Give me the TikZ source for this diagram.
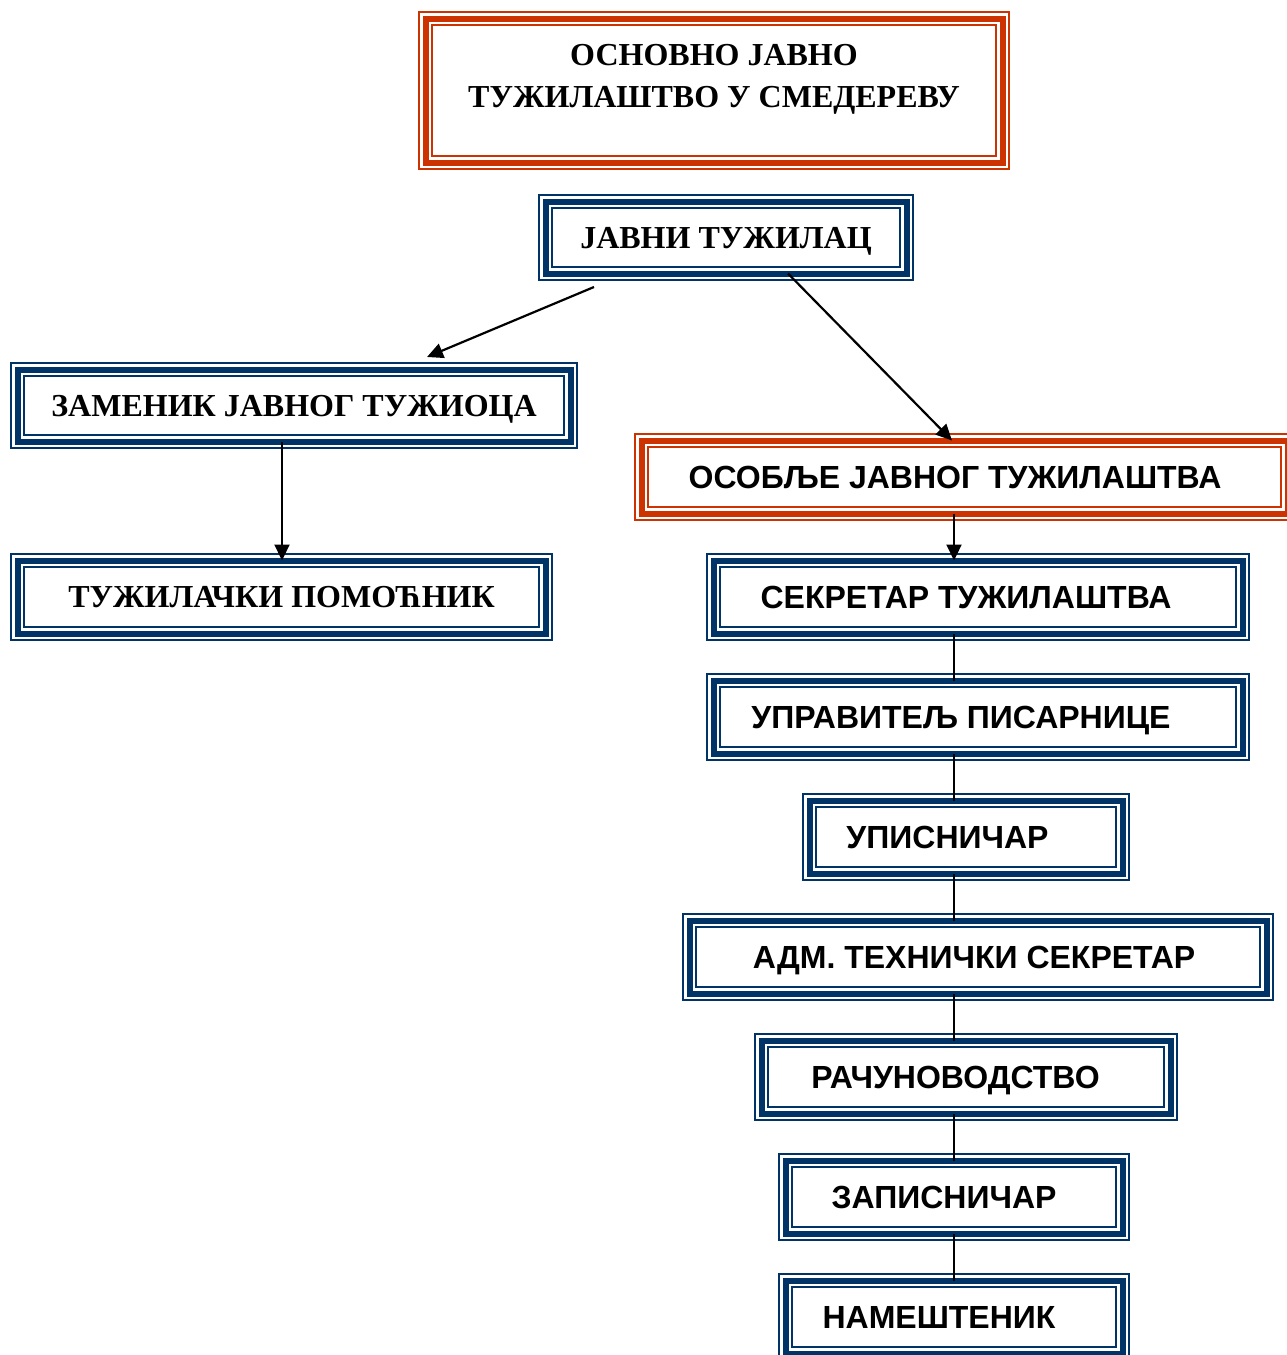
\documentclass[tikz,border=0pt]{standalone}
\usepackage{fontspec}
\setmainfont{Liberation Serif}
\newfontfamily\sansb{Liberation Sans}
\usetikzlibrary{arrows.meta,calc}
\definecolor{bordblue}{RGB}{0,51,102}
\definecolor{bordred}{RGB}{204,51,0}
\newcommand{\lft}[1]{\hspace*{#1pt}}
\tikzset{
  tribox/.style={rectangle, inner sep=0pt, outer sep=0pt,
    preaction={fill=white, draw=#1, line width=15pt},
    preaction={draw=white, line width=10.5pt},
    draw=#1, line width=6pt},
  serifbox/.style={tribox=#1, font=\fontsize{32}{42}\selectfont\bfseries, align=center,
    text height=21pt, text depth=0pt},
  sansbox/.style={tribox=#1, font=\sansb\fontsize{32}{38}\selectfont\bfseries,
    text height=23pt, text depth=0pt},
  conn/.style={draw=black, line width=2.2pt},
  arr/.style={conn, -{Triangle[length=16pt,width=15pt]}}
}
\begin{document}
\begin{tikzpicture}[x=1pt,y=-1pt]
\useasboundingbox (0,0) rectangle (1287,1355);
\clip (0,0) rectangle (1287,1355);
\fill[white] (0,0) rectangle (1287,1355);

\node[serifbox=bordred, minimum width=577pt, minimum height=144pt, text height=63pt, text depth=29pt] (title) at (714,90.5)
  {ОСНОВНО ЈАВНО\\ТУЖИЛАШТВО У СМЕДЕРЕВУ};
\node[serifbox=bordblue, minimum width=361pt, minimum height=72pt] (jt) at (726,237.5)
  {ЈАВНИ ТУЖИЛАЦ};
\node[serifbox=bordblue, minimum width=553pt, minimum height=72pt] (zam) at (294,405.5)
  {ЗАМЕНИК ЈАВНОГ ТУЖИОЦА};
\node[serifbox=bordblue, minimum width=528pt, minimum height=73pt] (pom) at (281.5,597)
  {ТУЖИЛАЧКИ ПОМОЋНИК};

\node[sansbox=bordred, minimum width=646pt, minimum height=73pt] (osob) at (964.5,477)
  {ОСОБЉЕ ЈАВНОГ ТУЖИЛАШТВА\lft{19}};
\node[sansbox=bordblue, minimum width=529pt, minimum height=73pt] (sek) at (978,597)
  {СЕКРЕТАР ТУЖИЛАШТВА\lft{24}};
\node[sansbox=bordblue, minimum width=529pt, minimum height=73pt] (upr) at (978,717)
  {УПРАВИТЕЉ ПИСАРНИЦЕ\lft{34}};
\node[sansbox=bordblue, minimum width=313pt, minimum height=73pt] (upi) at (966,837)
  {УПИСНИЧАР\lft{37}};
\node[sansbox=bordblue, minimum width=577pt, minimum height=73pt] (adm) at (978,957)
  {АДМ. ТЕХНИЧКИ СЕКРЕТАР\lft{8}};
\node[sansbox=bordblue, minimum width=409pt, minimum height=73pt] (rac) at (966,1077)
  {РАЧУНОВОДСТВО\lft{21}};
\node[sansbox=bordblue, minimum width=337pt, minimum height=73pt] (zap) at (954,1197)
  {ЗАПИСНИЧАР\lft{20}};
\node[sansbox=bordblue, minimum width=337pt, minimum height=73pt] (nam) at (954,1317)
  {НАМЕШТЕНИК\lft{30}};

% connectors
\coordinate (colR) at (954,0);
\coordinate (colL) at (282,0);
\coordinate (a1s) at (594,287);
\coordinate (a1e) at (427,357);
\coordinate (a2s) at (788,0);
\coordinate (a2e) at (952,0);

\draw[arr] (a1s) -- (a1e);
\draw[arr] (jt.south -| a2s) -- (osob.north -| a2e);
\draw[arr] (zam.south -| colL) -- (pom.north -| colL);
\draw[arr] (osob.south -| colR) -- (sek.north -| colR);
\draw[conn] (sek.south -| colR) -- (upr.north -| colR);
\draw[conn] (upr.south -| colR) -- (upi.north -| colR);
\draw[conn] (upi.south -| colR) -- (adm.north -| colR);
\draw[conn] (adm.south -| colR) -- (rac.north -| colR);
\draw[conn] (rac.south -| colR) -- (zap.north -| colR);
\draw[conn] (zap.south -| colR) -- (nam.north -| colR);
\end{tikzpicture}
\end{document}
